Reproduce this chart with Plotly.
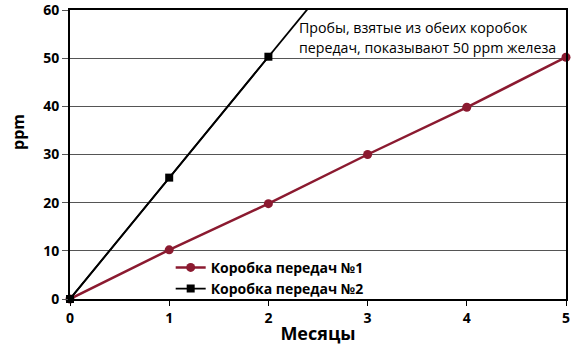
import plotly.graph_objects as go

months1 = [0, 1, 2, 3, 4, 5]
ppm1 = [0, 10.2, 19.8, 30, 39.8, 50.2]
months2 = [0, 1, 2]
ppm2 = [0, 25.2, 50.3]
# trend of gearbox 2 continues beyond the last sample
months2_trend = [0, 3]
ppm2_trend = [0, 75.4]

name1 = "Коробка передач №1"
name2 = "Коробка передач №2"
note_lines = ["Пробы, взятые из обеих коробок", "передач, показывают 50 ppm железа"]
red = "#8b1a30"
font = "Open Sans"

fig = go.Figure()
fig.add_trace(go.Scatter(x=months2_trend, y=ppm2_trend, mode="lines",
                         line=dict(color="black", width=1.8), showlegend=False,
                         hoverinfo="skip"))
fig.add_trace(go.Scatter(x=months1, y=ppm1, mode="lines+markers", name=name1,
                         line=dict(color=red, width=2.5),
                         marker=dict(symbol="circle", size=9, color=red),
                         cliponaxis=False))
fig.add_trace(go.Scatter(x=months2, y=ppm2, mode="lines+markers", name=name2,
                         line=dict(color="black", width=1.8),
                         marker=dict(symbol="square", size=8, color="black"),
                         cliponaxis=False))

annotations = []
for i, line in enumerate(note_lines):
    annotations.append(dict(text=line, xref="paper", yref="paper", x=0.457, y=1.0,
                            xanchor="left", yanchor="middle", yshift=-17 - 20 * i,
                            align="left", showarrow=False,
                            font=dict(size=14.2, family=font, color="black")))
annotations.append(dict(text="ppm", xref="paper", yref="paper", x=-0.105, y=0.578,
                        xanchor="center", yanchor="middle", textangle=-90,
                        showarrow=False,
                        font=dict(size=16, family=font, weight="bold", color="black")))

fig.update_layout(
    width=575, height=352,
    margin=dict(l=70, r=9, t=10, b=53),
    paper_bgcolor="white", plot_bgcolor="white",
    font=dict(family=font, color="black"),
    showlegend=True,
    legend=dict(x=0.203, y=-0.02, xanchor="left", yanchor="bottom",
                bgcolor="rgba(0,0,0,0)", font=dict(size=14, family=font, weight="bold"),
                tracegroupgap=0, itemwidth=30),
    xaxis=dict(range=[0, 5], tickvals=[0, 1, 2, 3, 4, 5], showgrid=False,
               showline=True, linecolor="black", linewidth=2, mirror=True,
               ticks="outside", ticklen=5, tickcolor="black",
               tickfont=dict(size=14, family=font, weight="bold"),
               ticklabeloverflow="allow",
               title=dict(text="Месяцы", font=dict(size=18, family=font, weight="bold"), standoff=2),
               zeroline=False, automargin=False),
    yaxis=dict(range=[0, 60], tickvals=[0, 10, 20, 30, 40, 50, 60],
               showgrid=True, gridcolor="#555", gridwidth=1,
               showline=True, linecolor="black", linewidth=2, mirror=True,
               ticks="outside", ticklen=6, tickcolor="#555",
               tickfont=dict(size=14, family=font, weight="bold"),
               ticklabeloverflow="allow",
               zeroline=False, automargin=False),
    annotations=annotations,
)

fig.write_html("out.html")
